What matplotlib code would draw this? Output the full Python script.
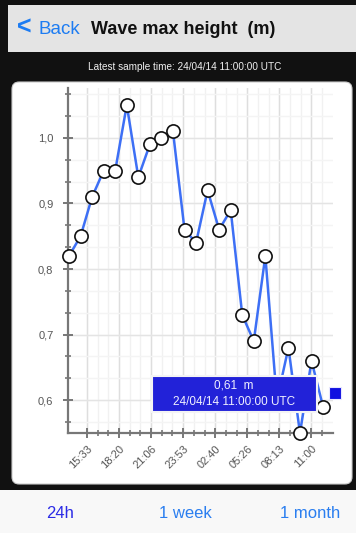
import matplotlib
matplotlib.use("Agg")
import matplotlib.pyplot as plt
from matplotlib.patches import Rectangle, FancyBboxPatch
import numpy as np

plt.rcParams['font.family'] = ['Liberation Sans', 'DejaVu Sans']

# ---- data ----
hours = list(range(23))  # hourly samples
wave_height = [0.82, 0.85, 0.91, 0.95, 0.95, 1.05, 0.94, 0.99, 1.00, 1.01,
               0.86, 0.84, 0.92, 0.86, 0.89, 0.73, 0.69, 0.82, 0.60, 0.68,
               0.55, 0.66, 0.59]
tick_labels = ["15:33", "18:20", "21:06", "23:53", "02:40", "05:26", "08:13", "11:00"]
first_tick = 1.55
tick_step = 2.778
y_major = [0.6, 0.7, 0.8, 0.9, 1.0]
y_labels = ["0,6", "0,7", "0,8", "0,9", "1,0"]
tooltip_value = "0,61  m"
tooltip_time = "24/04/14 11:00:00 UTC"
title = "Wave max height  (m)"
subtitle = "Latest sample time: 24/04/14 11:00:00 UTC"
tabs = ["24h", "1 week", "1 month"]

W, H = 356, 533
fig = plt.figure(figsize=(W / 100, H / 100), dpi=100)
fig.patch.set_facecolor("#111111")

def fx(x):
    return x / W

def fy(y):
    return 1 - y / H

def rect(x0, y0, x1, y1, color, z=1, **kw):
    r = Rectangle((fx(x0), fy(y1)), fx(x1) - fx(x0), fy(y0) - fy(y1),
                  transform=fig.transFigure, facecolor=color, edgecolor="none",
                  zorder=z, **kw)
    fig.add_artist(r)
    return r

# nav bar
rect(8, 5, 356, 52, "#e4e4e4", z=-2)
fig.text(fx(17), fy(28), "<", color="#1d7cf2", fontsize=18, va="center", ha="left",
         fontweight="bold")
fig.text(fx(38), fy(29), "Back", color="#1d7cf2", fontsize=13.5, va="center", ha="left")
fig.text(fx(91), fy(29), title, color="#111111", fontsize=13, va="center", ha="left",
         fontweight="bold")
# subtitle strip
fig.text(fx(185), fy(67), subtitle, color="#f0f0f0", fontsize=7.2, va="center", ha="center")

# white panel
panel = FancyBboxPatch((fx(12), fy(484)), fx(352) - fx(12), fy(82) - fy(484),
                       boxstyle="round,pad=0,rounding_size=0.02",
                       transform=fig.transFigure, facecolor="white",
                       edgecolor="#cccccc", linewidth=0.8, mutation_aspect=W / H,
                       zorder=-2)
fig.add_artist(panel)

# bottom bar
rect(0, 490, 356, 533, "#f8f8f8", z=-2)
tab_x = [60, 185, 310]
tab_colors = ["#2b2be6", "#2a7ef0", "#2a7ef0"]
for t, x, c in zip(tabs, tab_x, tab_colors):
    fig.text(fx(x), fy(514), t, color=c, fontsize=12, va="center", ha="center")

# chart axes
ax = fig.add_axes([fx(68), fy(433), fx(333) - fx(68), fy(88) - fy(433)])
ax.set_zorder(2)
ax.set_facecolor("none")
ax.set_xlim(-0.09, 22.86)
ax.set_ylim(0.55, 1.076)

x_major = [first_tick + i * tick_step for i in range(len(tick_labels))]
x_minor = [first_tick + i * tick_step / 3 for i in range(0, 23) if first_tick + i * tick_step / 3 < 22.9]
y_minor = [round(0.6 + k / 30, 4) for k in range(-1, 15)]

ax.set_xticks(x_major)
ax.set_xticks(x_minor, minor=True)
ax.set_xticklabels(tick_labels)
ax.set_yticks(y_major)
ax.set_yticklabels(y_labels)
ax.set_yticks([v for v in y_minor if 0.55 < v < 1.076], minor=True)

for v in x_minor:
    ax.axvline(v, color="#f1f1f1", lw=1, zorder=0)
for v in x_major:
    ax.axvline(v, color="#dedede", lw=1, zorder=0)
for v in y_minor:
    ax.axhline(v, color="#f4f4f4", lw=1, zorder=0)
for v in y_major:
    ax.axhline(v, color="#e4e4e4", lw=1, zorder=0)

for s in ["top", "right"]:
    ax.spines[s].set_visible(False)
for s in ["left", "bottom"]:
    ax.spines[s].set_color("#777777")
    ax.spines[s].set_linewidth(1.6)

ax.tick_params(axis="both", which="major", direction="inout", length=7, width=1.4,
               color="#777777", labelcolor="#555555", labelsize=8)
ax.tick_params(axis="both", which="minor", direction="inout", length=5, width=1.2,
               color="#777777")
ax.tick_params(axis="y", which="major", pad=7)
ax.tick_params(axis="x", which="major", pad=4)
for lbl in ax.get_xticklabels():
    lbl.set_rotation(45)
    lbl.set_ha("right")
    lbl.set_va("top")
    lbl.set_rotation_mode("anchor")

ax.plot(hours, wave_height, color="#3d6ff5", lw=1.8, zorder=3, clip_on=False)
ax.plot(hours, wave_height, linestyle="none", marker="o", markersize=9.5,
        markerfacecolor="white", markeredgecolor="#111111", markeredgewidth=1.2,
        zorder=4, clip_on=False)

# tooltip
tip = Rectangle((fx(152), fy(412)), fx(317) - fx(152), fy(376) - fy(412),
                transform=fig.transFigure, facecolor="#2222d8", edgecolor="#f4f4f4",
                linewidth=1.5, zorder=10)
fig.add_artist(tip)
fig.text(fx(234), fy(386), tooltip_value, color="#f0f0ff", fontsize=8.5,
         ha="center", va="center", zorder=11)
fig.text(fx(234), fy(402), tooltip_time, color="#f0f0ff", fontsize=8.5,
         ha="center", va="center", zorder=11)
sq = Rectangle((fx(329), fy(399)), fx(341) - fx(329), fy(387) - fy(399),
               transform=fig.transFigure, facecolor="#1010e0", edgecolor="#e8e8ff",
               linewidth=0.8, zorder=10)
fig.add_artist(sq)

fig.savefig("out.png", dpi=100, facecolor=fig.get_facecolor())
